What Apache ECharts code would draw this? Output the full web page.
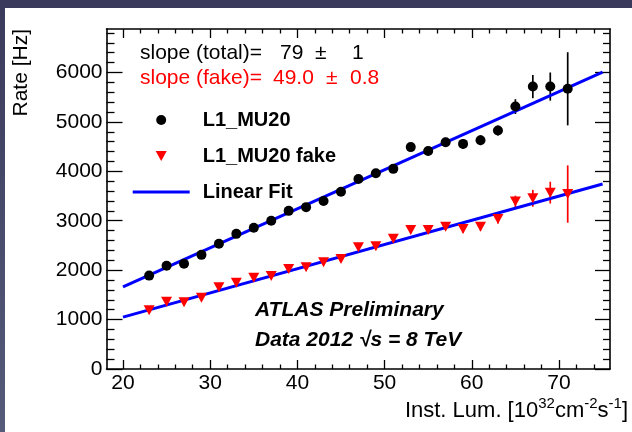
<!DOCTYPE html>
<html>
<head>
<meta charset="utf-8">
<script src="https://cdn.jsdelivr.net/npm/echarts@6/dist/echarts.min.js"></script>
<style>
html,body{margin:0;padding:0;background:#fff;}
#chart{width:632px;height:432px;}
</style>
</head>
<body>
<div id="chart"></div>
<script>
// ---- data ----
const lumi = [23,25,27,29,31,33,35,37,39,41,43,45,47,49,51,53,55,57,59,61,63,65,67,69,71];
const rateTotal = [1890,2090,2130,2310,2535,2735,2860,3000,3200,3275,3400,3585,3845,3960,4050,4490,4410,4590,4555,4630,4825,5310,5715,5715,5670];
const errTotal  = [40,40,45,50,50,55,55,60,60,65,65,70,75,75,80,85,85,90,95,100,100,150,235,285,740];
const rateFake  = [1188,1363,1350,1444,1654,1747,1848,1883,2024,2059,2159,2227,2463,2483,2635,2814,2814,2881,2834,2881,3036,3387,3455,3569,3540];
const errFake   = [25,25,30,30,35,35,40,40,45,45,50,50,55,60,60,65,65,70,75,80,90,120,170,220,580];
const fitX = [20, 75];
const fitTotalY = [1664, 6009];
const fitFakeY = [1049, 3744];
const xMajor = [20,30,40,50,60,70];
const xMinor = [22,24,26,28,32,34,36,38,42,44,46,48,52,54,56,58,62,64,66,68,72,74];
const yMajor = [0,1000,2000,3000,4000,5000,6000];
const yMinor = [200,400,600,800,1200,1400,1600,1800,2200,2400,2600,2800,3200,3400,3600,3800,4200,4400,4600,4800,5200,5400,5600,5800,6200,6400,6600,6800];
const X_MIN = 18.11, X_MAX = 75.85, Y_MIN = 0, Y_MAX = 6880;

const FONT = 'Liberation Sans';
const chart = echarts.init(document.getElementById('chart'), null, {renderer:'canvas'});

function axisBase(min, max) {
  return {type:'value', min:min, max:max, splitLine:{show:false},
    axisLabel:{show:false}, axisLine:{show:false, onZero:false}, axisTick:{show:false}};
}
function tickAxis(kind, pos, vals, len, line, labels) {
  const a = axisBase(kind==='x'?X_MIN:Y_MIN, kind==='x'?X_MAX:Y_MAX);
  a.position = pos;
  a.axisTick = {show:true, inside:true, length:len, customValues:vals, lineStyle:{color:'#000', width:1.3}};
  if (line) a.axisLine = {show:true, onZero:false, lineStyle:{color:'#000', width:1.6}};
  if (labels) a.axisLabel = {show:true, customValues:vals, color:'#000', fontSize:21, fontFamily:FONT, margin:4,
    formatter:function(v){ return String(v); }};
  return a;
}
function errBars(color, rates, errs) {
  return {
    type:'custom', xAxisIndex:0, yAxisIndex:0, z:3,
    renderItem:function(params, api){
      const p1 = api.coord([api.value(0), api.value(1)]);
      const p2 = api.coord([api.value(0), api.value(2)]);
      return {type:'line', shape:{x1:p1[0], y1:p1[1], x2:p2[0], y2:p2[1]}, style:{stroke:color, lineWidth:1.7}};
    },
    encode:{x:0, y:[1,2]},
    data: lumi.map((x,i)=>[x, rates[i]-errs[i], rates[i]+errs[i]])
  };
}

const option = {
  animation:false,
  backgroundColor:'#fff',
  grid:{left:106.5, right:22, top:29, bottom:63, containLabel:false},
  xAxis:[
    tickAxis('x','bottom',xMajor,9,true,true),
    tickAxis('x','bottom',xMinor,4.5,false,false),
    tickAxis('x','top',xMajor,9,true,false),
    tickAxis('x','top',xMinor,4.5,false,false)
  ],
  yAxis:[
    tickAxis('y','left',yMajor,16,true,true),
    tickAxis('y','left',yMinor,8,false,false),
    tickAxis('y','right',yMajor,15,true,false),
    tickAxis('y','right',yMinor,7,false,false)
  ],
  legend:{
    left:132.7, top:110, orient:'vertical', padding:0,
    itemWidth:57, itemHeight:10, itemGap:16, selectedMode:false,
    textStyle:{color:'#000', fontSize:20, fontWeight:'bold', fontFamily:FONT, lineHeight:20, padding:[0,0,0,8]},
    data:[
      {name:'L1_MU20'},
      {name:'L1_MU20 fake'},
      {name:'Linear Fit', icon:'path://M0,0 L57,0 L57,3 L0,3 Z', itemStyle:{color:'#0000ff'}}
    ]
  },
  series:[
    errBars('#000', rateTotal, errTotal),
    errBars('#ff0000', rateFake, errFake),
    {type:'line', name:'Linear Fit', xAxisIndex:0, yAxisIndex:0, z:4, symbol:'none',
      lineStyle:{color:'#0000ff', width:3}, itemStyle:{color:'#0000ff'},
      data: fitX.map((x,i)=>[x, fitTotalY[i]])},
    {type:'line', name:'Linear Fit', xAxisIndex:0, yAxisIndex:0, z:4, symbol:'none',
      lineStyle:{color:'#0000ff', width:3}, itemStyle:{color:'#0000ff'},
      data: fitX.map((x,i)=>[x, fitFakeY[i]])},
    {type:'scatter', name:'L1_MU20', xAxisIndex:0, yAxisIndex:0, z:5,
      symbol:'circle', symbolSize:10, itemStyle:{color:'#000', opacity:1},
      data: lumi.map((x,i)=>[x, rateTotal[i]])},
    {type:'scatter', name:'L1_MU20 fake', xAxisIndex:0, yAxisIndex:0, z:5,
      symbol:'path://M0,0 L10,0 L5,9 Z', symbolSize:[11,10], itemStyle:{color:'#ff0000', opacity:1},
      data: lumi.map((x,i)=>[x, rateFake[i]])}
  ],
  graphic:[
    {type:'rect', left:0, top:0, shape:{width:632, height:8}, style:{fill:'#3a3a5c'}, z:100},
    {type:'rect', left:0, top:0, shape:{width:5, height:432},
      style:{fill:new echarts.graphic.LinearGradient(0,0,0,1,[{offset:0,color:'#3a3a5c'},{offset:1,color:'#565b7a'}])}, z:100},
    {type:'text', x:140, y:53.5, style:{text:'slope (total)=', fill:'#000', font:'21px '+FONT, verticalAlign:'middle'}},
    {type:'text', x:280, y:53.5, style:{text:'79', fill:'#000', font:'21px '+FONT, verticalAlign:'middle'}},
    {type:'text', x:315, y:53.5, style:{text:'±', fill:'#000', font:'21px '+FONT, verticalAlign:'middle'}},
    {type:'text', x:352, y:53.5, style:{text:'1', fill:'#000', font:'21px '+FONT, verticalAlign:'middle'}},
    {type:'text', x:140, y:78.5, style:{text:'slope (fake)=', fill:'#ff0000', font:'21px '+FONT, verticalAlign:'middle'}},
    {type:'text', x:273, y:78.5, style:{text:'49.0', fill:'#ff0000', font:'21px '+FONT, verticalAlign:'middle'}},
    {type:'text', x:326, y:78.5, style:{text:'±', fill:'#ff0000', font:'21px '+FONT, verticalAlign:'middle'}},
    {type:'text', x:350, y:78.5, style:{text:'0.8', fill:'#ff0000', font:'21px '+FONT, verticalAlign:'middle'}},
    {type:'text', x:255, y:310, style:{text:'ATLAS Preliminary', fill:'#000', font:'italic bold 21px '+FONT, verticalAlign:'middle'}},
    {type:'text', x:255, y:340, style:{text:'Data 2012 √s = 8 TeV', fill:'#000', font:'italic bold 21px '+FONT, verticalAlign:'middle'}},
    {type:'text', x:21, y:29, rotation:Math.PI/2,
      style:{text:'Rate [Hz]', fill:'#000', font:'21px '+FONT, align:'right', verticalAlign:'middle'}},
    {type:'text', x:628, y:409,
      style:{
        text:'{n|Inst. Lum. [10}{s|32}{n|cm}{s|-2}{n|s}{s|-1}{n|]}',
        align:'right', verticalAlign:'middle',
        rich:{
          n:{fontSize:22, fontFamily:FONT, fill:'#000', lineHeight:25, verticalAlign:'bottom'},
          s:{fontSize:15, fontFamily:FONT, fill:'#000', lineHeight:25, verticalAlign:'top'}
        }
      }}
  ]
};
chart.setOption(option);
</script>
</body>
</html>
